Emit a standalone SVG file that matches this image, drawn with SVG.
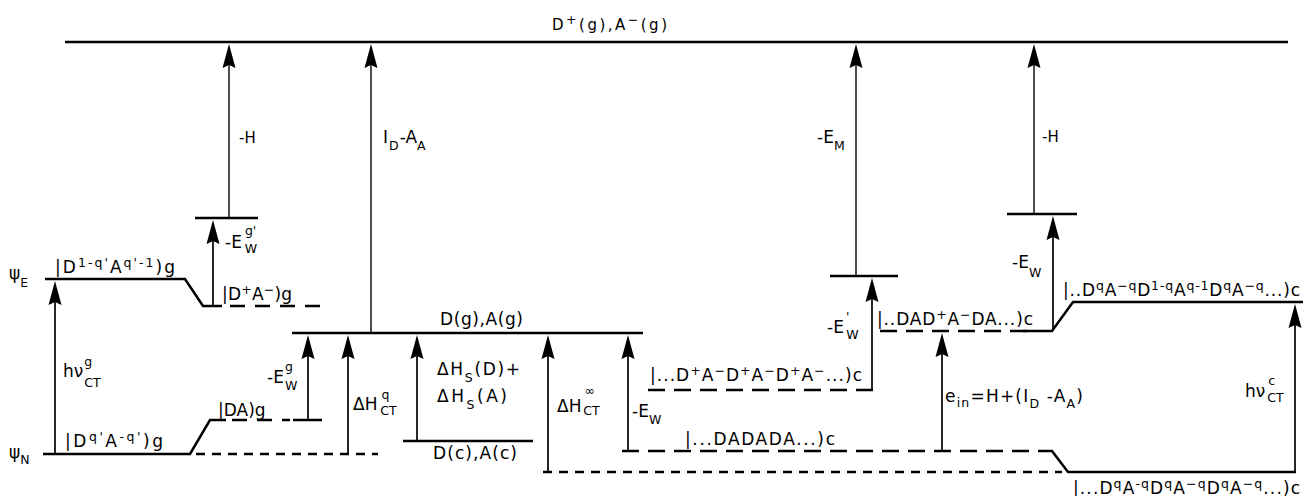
<svg xmlns="http://www.w3.org/2000/svg" width="1303" height="496" viewBox="0 0 1303 496">
<style>
.lv{stroke:#000;stroke-width:2.5;fill:none}
.d1{stroke-dasharray:15 10}
.d2{stroke-dasharray:9 7}
.d3{stroke-dasharray:17 9}
.ar{stroke:#000;stroke-width:1.7;fill:none;marker-end:url(#ah)}
.th{stroke-width:1.4}
text{font-family:"DejaVu Sans","Liberation Sans",sans-serif;font-size:17px;fill:#000}
.s{font-size:12.5px}
.m{font-size:15px}
</style>
<defs>
<marker id="ah" markerUnits="userSpaceOnUse" markerWidth="30" markerHeight="16" viewBox="-22 -8 30 16" refX="0" refY="0" orient="auto">
<path d="M4,0 L-20,-6.5 L-17,0 L-20,6.5 Z" fill="#000"/>
</marker>
</defs>
<g id="levels">
<g id="lvl-top"><path class="lv" d="M65,42 H1288"/></g>
<g id="lvl-gE"><path class="lv" d="M45,279 H185 L203,306 H222"/><path class="lv d1" d="M230,306 H323"/></g>
<g id="lvl-gN"><path class="lv" d="M43,454 H190 L210,420 H226"/><path class="lv d1" d="M232,420 H290"/><path class="lv" d="M293,420 H322"/><path class="lv d2" d="M196,454 H378" stroke-width="1.9"/></g>
<g id="lvl-barL"><path class="lv" d="M195,218 H258"/></g>
<g id="lvl-Dg"><path class="lv" d="M292,333 H643"/></g>
<g id="lvl-Dc"><path class="lv" d="M403,441 H533"/></g>
<g id="lvl-bottom"><path class="lv d2" d="M543,472 H1062" stroke-width="1.9"/></g>
<g id="lvl-ionc"><path class="lv d3" d="M648,390 H878"/></g>
<g id="lvl-neutc"><path class="lv d3" d="M622,451 H1040"/><path class="lv" d="M1040,451 H1052 L1068,472 H1296"/></g>
<g id="lvl-exc"><path class="lv d3" d="M880,331 H1030"/><path class="lv" d="M1023,331 H1052 L1073,302 H1303"/></g>
<g id="lvl-barM"><path class="lv" d="M830,276 H898"/></g>
<g id="lvl-barR"><path class="lv" d="M1007,214 H1077"/></g>
</g>
<g id="connectors">
<line class="ar" x1="55" y1="454" x2="55" y2="285"/>
<line class="ar" x1="213" y1="306" x2="213" y2="224"/>
<line class="ar th" x1="229" y1="218" x2="229" y2="48"/>
<line class="ar th" x1="371" y1="333" x2="371" y2="48"/>
<line class="ar" x1="308" y1="420" x2="308" y2="339"/>
<line class="ar" x1="348" y1="454" x2="348" y2="339"/>
<line class="ar" x1="417" y1="441" x2="417" y2="339"/>
<line class="ar" x1="548" y1="472" x2="548" y2="339"/>
<line class="ar" x1="628" y1="451" x2="628" y2="339"/>
<line class="ar" x1="872" y1="390" x2="872" y2="282"/>
<line class="ar th" x1="856" y1="276" x2="856" y2="48"/>
<line class="ar" x1="942" y1="451" x2="942" y2="337"/>
<line class="ar" x1="1053" y1="331" x2="1053" y2="220"/>
<line class="ar th" x1="1034" y1="214" x2="1034" y2="48"/>
<line class="ar" x1="1295" y1="472" x2="1295" y2="308"/>
</g>
<g id="labels">
<text id="t-top" x="552" y="30" class="m" textLength="115">D<tspan class="s" dy="-6">+</tspan><tspan dy="6">(g),A</tspan><tspan class="s" dy="-6">−</tspan><tspan dy="6">(g)</tspan></text>
<text x="239" y="143" class="m">-H</text>
<text x="383" y="143">I<tspan class="s" dx="1" dy="7">D</tspan><tspan dx="1" dy="-7">-A</tspan><tspan class="s" dy="7">A</tspan></text>
<text x="817" y="143">-E<tspan class="s" dy="7">M</tspan></text>
<text x="1042" y="142" class="m">-H</text>
<text x="225" y="248">-E<tspan class="s" dx="3" dy="-13">g'</tspan><tspan class="s" dx="-11.4" dy="18">W</tspan></text>
<text x="9" y="279" font-size="19">ψ<tspan class="s" dy="8">E</tspan></text>
<text x="9" y="458" font-size="19">ψ<tspan class="s" dy="6">N</tspan></text>
<text x="55" y="273" textLength="120">|D<tspan class="s" dy="-6">1-q'</tspan><tspan dy="6">A</tspan><tspan class="s" dy="-6">q'-1</tspan><tspan dy="6">)g</tspan></text>
<text x="222" y="300" textLength="70">|D<tspan class="s" dy="-6">+</tspan><tspan dy="6">A</tspan><tspan class="s" dy="-6">−</tspan><tspan dy="6">)g</tspan></text>
<text x="63" y="377">hν<tspan class="s" dx="1" dy="-11">g</tspan><tspan class="s" dx="-8" dy="21">CT</tspan></text>
<text x="65" y="447" textLength="98">|D<tspan class="s" dy="-6">q'</tspan><tspan dy="6">A</tspan><tspan class="s" dy="-6">-q'</tspan><tspan dy="6">)g</tspan></text>
<text x="218" y="416">|DA)g</text>
<text x="267" y="383">-E<tspan class="s" dx="1" dy="-12">g</tspan><tspan class="s" dx="-7.9" dy="19">W</tspan></text>
<text x="353" y="410">ΔH<tspan class="s" dx="4" dy="-11">q</tspan><tspan class="s" dx="-9" dy="16">CT</tspan></text>
<text x="440" y="325" textLength="83">D(g),A(g)</text>
<text x="437" y="375" textLength="83">ΔH<tspan class="s" dy="7">S</tspan><tspan dy="-7">(D)+</tspan></text>
<text x="437" y="402" textLength="70">ΔH<tspan class="s" dy="7">S</tspan><tspan dy="-7">(A)</tspan></text>
<text x="433" y="459" textLength="84">D(c),A(c)</text>
<text x="557" y="412">ΔH<tspan class="s" dx="3" dy="-17">∞</tspan><tspan class="s" dx="-11.5" dy="20">CT</tspan></text>
<text x="632" y="417">-E<tspan class="s" dy="7">W</tspan></text>
<text x="650" y="381" textLength="212">|...D<tspan class="s" dy="-6">+</tspan><tspan dy="6">A</tspan><tspan class="s" dy="-6">−</tspan><tspan dy="6">D</tspan><tspan class="s" dy="-6">+</tspan><tspan dy="6">A</tspan><tspan class="s" dy="-6">−</tspan><tspan dy="6">D</tspan><tspan class="s" dy="-6">+</tspan><tspan dy="6">A</tspan><tspan class="s" dy="-6">−</tspan><tspan dy="6">...)c</tspan></text>
<text x="685" y="445" textLength="150">|...DADADA...)c</text>
<text x="827" y="333">-E<tspan class="s" dx="2" dy="-12">'</tspan><tspan class="s" dx="-3" dy="18">W</tspan></text>
<text x="877" y="325" textLength="156">|..DAD<tspan class="s" dy="-6">+</tspan><tspan dy="6">A</tspan><tspan class="s" dy="-6">−</tspan><tspan dy="6">DA...)c</tspan></text>
<text x="945" y="402" textLength="138">e<tspan class="s" dy="5">in</tspan><tspan dy="-5">=H+(I</tspan><tspan class="s" dy="6">D</tspan><tspan dy="-6"> -A</tspan><tspan class="s" dy="6">A</tspan><tspan dy="-6">)</tspan></text>
<text x="1012" y="268">-E<tspan class="s" dy="9">W</tspan></text>
<text x="1063" y="296" textLength="237">|..D<tspan class="s" dy="-6">q</tspan><tspan dy="6">A</tspan><tspan class="s" dy="-6">−q</tspan><tspan dy="6">D</tspan><tspan class="s" dy="-6">1-q</tspan><tspan dy="6">A</tspan><tspan class="s" dy="-6">q-1</tspan><tspan dy="6">D</tspan><tspan class="s" dy="-6">q</tspan><tspan dy="6">A</tspan><tspan class="s" dy="-6">−q</tspan><tspan dy="6">...)c</tspan></text>
<text x="1245" y="397">hν<tspan class="s" dx="3" dy="-12">c</tspan><tspan class="s" dx="-8" dy="17">CT</tspan></text>
<text x="1073" y="494" textLength="227">|...D<tspan class="s" dy="-6">q</tspan><tspan dy="6">A</tspan><tspan class="s" dy="-6">-q</tspan><tspan dy="6">D</tspan><tspan class="s" dy="-6">q</tspan><tspan dy="6">A</tspan><tspan class="s" dy="-6">−q</tspan><tspan dy="6">D</tspan><tspan class="s" dy="-6">q</tspan><tspan dy="6">A</tspan><tspan class="s" dy="-6">−q</tspan><tspan dy="6">...)c</tspan></text>
</g>
</svg>
